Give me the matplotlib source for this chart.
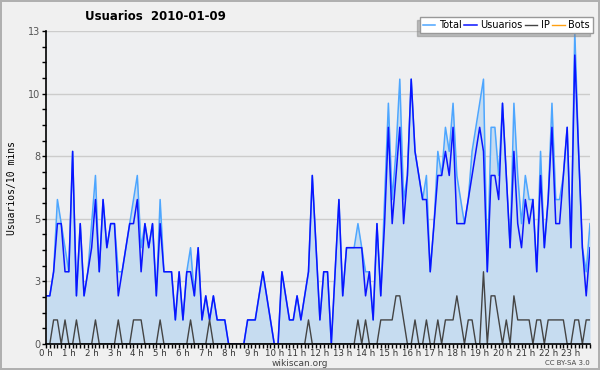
import numpy as np
import matplotlib
matplotlib.use("Agg")
from matplotlib import pyplot as plt
from matplotlib.ticker import FixedLocator

# valores cada 10 minutos (144 puntos)
total = [2, 2, 3, 6, 5, 4, 3, 8, 2, 5, 2, 3, 5, 7, 3, 6, 4, 5, 5, 3, 3, 4, 5, 6,
         7, 4, 5, 4, 5, 2, 6, 3, 3, 3, 1, 3, 1, 3, 4, 2, 4, 1, 2, 1, 2, 1, 1, 1,
         0, 0, 0, 0, 0, 1, 1, 1, 2, 3, 2, 1, 0, 0, 3, 2, 1, 1, 2, 1, 2, 3, 7, 4,
         1, 3, 3, 0, 3, 6, 2, 4, 4, 4, 5, 4, 3, 3, 1, 5, 2, 6, 10, 6, 8, 11, 6, 7,
         11, 8, 7, 6, 7, 3, 5, 8, 7, 9, 8, 10, 7, 6, 5, 6, 8, 9, 10, 11, 3, 9, 9, 7,
         10, 7, 4, 10, 7, 5, 7, 6, 6, 3, 8, 4, 6, 10, 6, 6, 7, 9, 4, 13, 8, 4, 3, 5]
usuarios = [2, 2, 3, 5, 5, 3, 3, 8, 2, 5, 2, 3, 4, 6, 3, 6, 4, 5, 5, 2, 3, 4, 5, 5,
            6, 3, 5, 4, 5, 2, 5, 3, 3, 3, 1, 3, 1, 3, 3, 2, 4, 1, 2, 1, 2, 1, 1, 1,
            0, 0, 0, 0, 0, 1, 1, 1, 2, 3, 2, 1, 0, 0, 3, 2, 1, 1, 2, 1, 2, 3, 7, 4,
            1, 3, 3, 0, 3, 6, 2, 4, 4, 4, 4, 4, 2, 3, 1, 5, 2, 5, 9, 5, 7, 9, 5, 7,
            11, 8, 7, 6, 6, 3, 5, 7, 7, 8, 7, 9, 5, 5, 5, 6, 7, 8, 9, 8, 3, 7, 7, 6,
            10, 7, 4, 8, 5, 4, 6, 5, 6, 3, 7, 4, 6, 9, 5, 5, 7, 9, 4, 12, 8, 4, 2, 4]
ip = [0, 0, 1, 1, 0, 1, 0, 0, 1, 0, 0, 0, 0, 1, 0, 0, 0, 0, 0, 1, 0, 0, 0, 1,
      1, 1, 0, 0, 0, 0, 1, 0, 0, 0, 0, 0, 0, 0, 1, 0, 0, 0, 0, 1, 0, 0, 0, 0,
      0, 0, 0, 0, 0, 0, 0, 0, 0, 0, 0, 0, 0, 0, 0, 0, 0, 0, 0, 0, 0, 1, 0, 0,
      0, 0, 0, 0, 0, 0, 0, 0, 0, 0, 1, 0, 1, 0, 0, 0, 1, 1, 1, 1, 2, 2, 1, 0,
      0, 1, 0, 0, 1, 0, 0, 1, 0, 1, 1, 1, 2, 1, 0, 1, 1, 0, 0, 3, 0, 2, 2, 1,
      0, 1, 0, 2, 1, 1, 1, 1, 0, 1, 1, 0, 1, 1, 1, 1, 1, 0, 0, 1, 1, 0, 1, 1]
bots = [0] * 144

yticks = [0, 2.6, 5.2, 7.8, 10.4, 13]
ylabels = ["0", "3", "5", "8", "10", "13"]
hours = list(range(24))
xlabels = [f"{h} h" for h in hours]

x = np.arange(len(total)) / 6.0

fig = plt.figure(figsize=(6, 3.7), dpi=100, facecolor="#f0f0f0",
                 edgecolor="#b0b0b0", linewidth=1.5)
ax = fig.add_axes([46/600, 26/370, 544/600, 313/370])
ax.set_facecolor("#eeeff1")

ax.fill_between(x, total, 0, color="#c6dcf0", lw=0, zorder=1)
ax.plot(x, total, color="#4da6ff", lw=1.1, label="Total", zorder=3)
ax.plot(x, usuarios, color="#0a14ff", lw=1.1, label="Usuarios", zorder=4)
ax.plot(x, ip, color="#444444", lw=1.0, label="IP", zorder=5)
ax.plot(x, bots, color="#ffa010", lw=1.0, label="Bots", zorder=0.5)

ax.set_xlim(0, 143/6)
ax.set_ylim(0, 13)

ax.set_yticks(yticks)
ax.set_yticklabels(ylabels)
ax.yaxis.set_minor_locator(FixedLocator(np.linspace(0, 13, 21)))
ax.set_xticks(hours)
ax.set_xticklabels(xlabels)
ax.xaxis.set_minor_locator(FixedLocator(x))

ax.grid(axis="y", color="#cccccc", lw=1)
ax.set_axisbelow(True)
for s in ["top", "right"]:
    ax.spines[s].set_visible(False)
ax.spines["left"].set_linewidth(1.2)
ax.spines["bottom"].set_linewidth(1.2)
ax.spines["left"].set_zorder(6)
ax.spines["bottom"].set_zorder(6)

ax.tick_params(axis="y", which="major", length=3, width=1, labelsize=7,
               labelcolor="#555555", pad=1)
ax.tick_params(axis="y", which="minor", length=3, width=1)
ax.tick_params(axis="x", which="major", length=3, width=1, labelsize=6.2,
               labelcolor="#333333", pad=0.5)
ax.tick_params(axis="x", which="minor", length=3, width=1)

leg = ax.legend(loc="upper right", bbox_to_anchor=(593/600, 1 - 17/370),
                bbox_transform=fig.transFigure, ncol=4, fontsize=7,
                frameon=True, fancybox=False, borderaxespad=0,
                handlelength=1.3, handletextpad=0.4, columnspacing=0.2,
                borderpad=0.3, shadow={"ox": -2, "oy": -2, "color": "#888888"})
leg.get_frame().set_edgecolor("#999999")
leg.get_frame().set_facecolor("white")
leg.get_frame().set_alpha(1)

fig.text(85/600, 1 - 16/370, "Usuarios  2010-01-09", fontsize=8.5,
         fontweight="bold", ha="left", va="center")
fig.text(12/600, 1 - 188/370, "Usuarios/10 mins", rotation=90,
         family="DejaVu Sans Mono", fontsize=7, ha="center", va="center")
fig.text(0.5, 1 - 363/370, "wikiscan.org", fontsize=6.5, color="#444444",
         ha="center", va="center")
fig.text(590/600, 1 - 363/370, "CC BY-SA 3.0", fontsize=5, color="#444444",
         ha="right", va="center")

fig.savefig("out.png", dpi=100, facecolor=fig.get_facecolor(),
            edgecolor=fig.get_edgecolor())
